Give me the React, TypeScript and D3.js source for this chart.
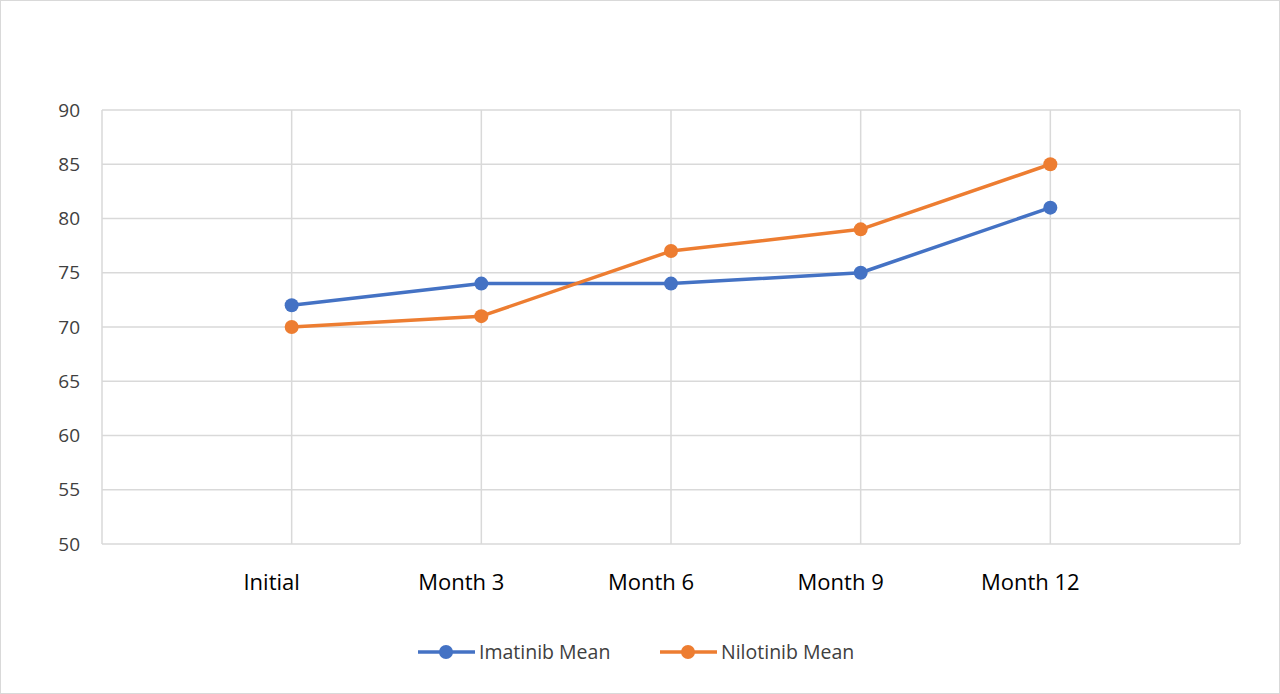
import * as React from 'react'
import * as d3 from 'd3'

const categories = ['Initial', 'Month 3', 'Month 6', 'Month 9', 'Month 12']
const imatinib = [72, 74, 74, 75, 81]
const nilotinib = [70, 71, 77, 79, 85]
const yTicks = [50, 55, 60, 65, 70, 75, 80, 85, 90]
const seriesList = [
    { name: 'Imatinib Mean', values: imatinib, color: '#4472C4' },
    { name: 'Nilotinib Mean', values: nilotinib, color: '#ED7D31' },
]

const W = 1280
const H = 694
const margin = { left: 102, right: 40, top: 110, bottom: 150 }
const font = '"Open Sans", "Noto Sans", sans-serif'

export default function App() {
    const x = d3.scalePoint<string>().domain(categories)
        .range([margin.left, W - margin.right]).padding(1)
    const y = d3.scaleLinear().domain([50, 90]).range([H - margin.bottom, margin.top])
    const line = d3.line<number>()
        .x((_, i) => x(categories[i]) as number)
        .y(d => y(d))
    const legendX = [418, 660]

    return (
        <svg width={W} height={H} style={{ position: 'absolute', left: 0, top: 0, fontFamily: font }}>
            <rect x={0.5} y={0.5} width={W - 1} height={H - 1} fill='#fff' stroke='#d9d9d9' />
            {yTicks.map(t => (
                <g key={t}>
                    <line x1={margin.left} x2={W - margin.right} y1={y(t)} y2={y(t)} stroke='#d9d9d9' strokeWidth={1.5} />
                    <text x={80} y={y(t)} dy='0.35em' textAnchor='end' fontSize={19} fill='#404040'>{t}</text>
                </g>
            ))}
            <line x1={margin.left} x2={margin.left} y1={margin.top} y2={H - margin.bottom} stroke='#d9d9d9' strokeWidth={1.5} />
            <line x1={W - margin.right} x2={W - margin.right} y1={margin.top} y2={H - margin.bottom} stroke='#d9d9d9' strokeWidth={1.5} />
            {categories.map(c => (
                <g key={c}>
                    <line x1={x(c)} x2={x(c)} y1={margin.top} y2={H - margin.bottom} stroke='#d9d9d9' strokeWidth={1.5} />
                    <text x={(x(c) as number) - 20} y={590} textAnchor='middle' fontSize={22} fill='#000'>{c}</text>
                </g>
            ))}
            {seriesList.map(s => (
                <g key={s.name}>
                    <path d={line(s.values) as string} fill='none' stroke={s.color} strokeWidth={3.5} strokeLinejoin='round' />
                    {s.values.map((v, i) => (
                        <circle key={i} cx={x(categories[i])} cy={y(v)} r={7} fill={s.color} />
                    ))}
                </g>
            ))}
            {seriesList.map((s, i) => (
                <g key={s.name} transform={`translate(${legendX[i]},652)`}>
                    <line x1={0} x2={57} stroke={s.color} strokeWidth={3.5} />
                    <circle cx={28} r={7} fill={s.color} />
                    <text x={61} dy='0.35em' fontSize={19.5} fill='#404040'>{s.name}</text>
                </g>
            ))}
        </svg>
    )
}
